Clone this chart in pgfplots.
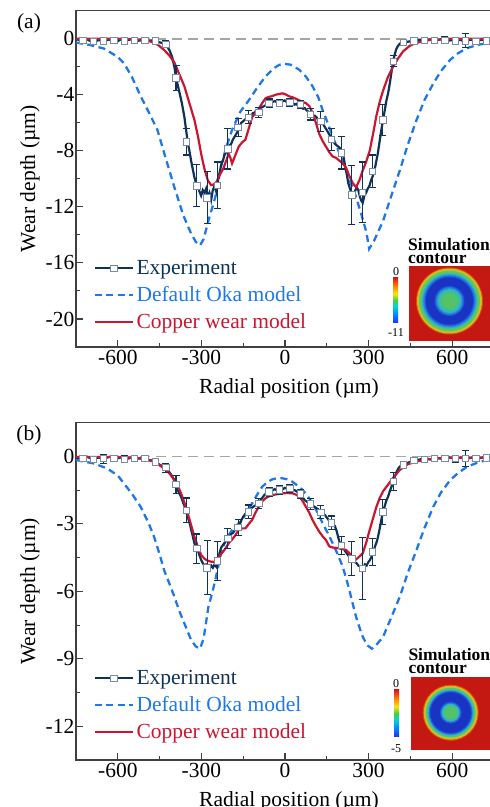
\documentclass[border=0pt]{standalone}
\usepackage{fontspec}
\setmainfont{Liberation Serif}
\usepackage{pgfplots}
\usepackage{pgfplotstable}
\pgfplotsset{compat=1.18}

\definecolor{expnavy}{HTML}{0F3358}
\definecolor{okablue}{HTML}{1F78E8}
\definecolor{cured}{HTML}{CC1630}
\definecolor{mkedge}{HTML}{7A8CA3}
\definecolor{zerogray}{HTML}{A6A6A6}
\definecolor{framegray}{HTML}{404040}
% jet colours for the contour insets
\definecolor{jred}{rgb}{0.77,0.1,0.07}
\definecolor{jorange}{rgb}{0.95,0.5,0.05}
\definecolor{jyellow}{rgb}{0.9,0.85,0.15}
\definecolor{jgreen}{rgb}{0.42,0.78,0.3}
\definecolor{jcyan}{rgb}{0.15,0.72,0.8}
\definecolor{jlblue}{rgb}{0.15,0.45,0.88}
\definecolor{jblue}{rgb}{0.1,0.2,0.76}
\definecolor{cgreen}{rgb}{0.33,0.76,0.4}
\definecolor{bblue}{rgb}{0.1,0.2,0.95}
\definecolor{bsky}{rgb}{0,0.55,1}
\definecolor{bcyan}{rgb}{0,0.85,0.85}
\definecolor{bgreen}{rgb}{0.3,0.8,0.2}
\definecolor{byellow}{rgb}{0.95,0.9,0.1}
\definecolor{borange}{rgb}{1,0.55,0}
\definecolor{bred}{rgb}{0.85,0.1,0.1}

\newcommand\fsz{\fontsize{21.5bp}{25bp}\selectfont}

% ---------- panel (a) ----------
\pgfplotstableread{
x y
-750 -0.05
-730 -0.1
-710 -0.05
-690 -0.25
-670 -0.1
-650 -0.15
-630 -0.05
-610 -0.3
-590 -0.05
-570 -0.1
-550 -0.05
-530 -0.15
-510 -0.1
-490 -0.15
-470 -0.1
-450 -0.25
-435 -0.35
-425 -0.5
-415 -0.8
-405 -1.3
-397 -2.0
-391 -2.8
-385 -3.3
-378 -3.9
-370 -4.6
-361 -5.6
-355 -6.5
-349 -7.4
-343 -8.0
-337 -8.7
-331 -9.3
-325 -9.9
-319 -10.3
-313 -10.5
-307 -10.9
-301 -11.2
-295 -10.8
-289 -11.0
-283 -10.7
-277 -11.3
-271 -11.0
-265 -11.5
-259 -10.8
-253 -10.5
-247 -10.9
-241 -10.2
-235 -9.6
-229 -9.0
-223 -8.7
-217 -8.3
-211 -8.1
-205 -7.9
-199 -7.6
-193 -7.5
-187 -7.2
-181 -7.0
-175 -6.8
-169 -6.6
-163 -6.3
-157 -6.0
-151 -5.9
-145 -5.8
-139 -5.7
-133 -5.6
-127 -5.5
-121 -5.5
-115 -5.3
-109 -5.3
-103 -5.1
-97 -5.2
-91 -5.0
-85 -4.9
-79 -4.85
-73 -4.8
-67 -4.7
-61 -4.6
-55 -4.6
-49 -4.55
-43 -4.5
-37 -4.45
-31 -4.5
-25 -4.45
-19 -4.5
-13 -4.4
-7 -4.45
-1 -4.4
5 -4.5
11 -4.45
17 -4.5
23 -4.55
29 -4.6
35 -4.7
41 -4.65
47 -4.8
53 -4.75
59 -4.9
65 -5.0
71 -4.95
77 -5.1
83 -5.2
89 -5.3
95 -5.4
101 -5.5
107 -5.5
113 -5.6
119 -5.8
125 -5.8
131 -5.9
137 -6.1
143 -6.3
149 -6.5
155 -6.7
161 -6.9
167 -7.1
173 -7.3
179 -7.5
185 -7.6
191 -7.7
197 -7.8
203 -8.0
209 -8.3
215 -9.0
221 -9.6
227 -10.3
233 -10.7
239 -11.0
245 -11.2
251 -10.9
257 -10.6
263 -10.8
269 -11.3
275 -11.6
279 -11.7
285 -11.2
291 -11.0
297 -10.7
303 -10.5
309 -10.1
315 -9.8
321 -9.4
327 -8.8
333 -8.2
339 -7.4
345 -6.6
352 -5.8
358 -5.1
364 -4.4
370 -3.9
376 -3.2
382 -2.4
388 -1.6
394 -1.1
400 -0.7
406 -0.5
412 -0.35
420 -0.3
430 -0.25
445 -0.2
460 -0.15
480 -0.1
500 -0.15
520 -0.05
540 -0.1
560 -0.05
580 -0.15
600 -0.1
620 -0.05
640 -0.15
660 -0.1
680 -0.05
700 -0.1
720 -0.05
750 -0.1
}\expAline

\pgfplotstableread{
x y e
-724.9 -0.10 0.15
-687.8 -0.20 0.15
-650.7 -0.15 0.25
-613.6 -0.10 0.12
-576.5 -0.15 0.18
-539.4 -0.10 0.15
-502.3 -0.10 0.15
-465.2 -0.15 0.15
-428.1 -0.40 0.25
-391.0 -2.80 0.90
-353.9 -7.35 0.95
-316.8 -10.50 1.50
-279.7 -11.35 1.85
-242.6 -10.45 1.65
-205.5 -7.85 1.45
-168.4 -6.35 0.65
-131.3 -5.60 0.45
-94.2 -5.25 0.35
-57.1 -4.60 0.30
-20.0 -4.60 0.25
17.1 -4.55 0.25
54.2 -4.70 0.30
91.3 -5.40 0.40
128.4 -5.90 0.70
165.5 -7.20 0.80
202.6 -8.15 1.15
239.7 -11.15 2.10
276.8 -10.95 2.15
313.9 -9.45 1.15
351.0 -5.80 1.10
388.1 -1.60 0.40
425.2 -0.25 0.20
462.3 -0.15 0.15
499.4 -0.10 0.20
536.5 -0.10 0.15
573.6 -0.10 0.25
610.7 -0.15 0.20
647.8 -0.15 0.50
684.9 -0.20 0.20
722.0 -0.15 0.15
}\expAmarks

\pgfplotstableread{
x y
-750 -0.27
-700 -0.45
-650 -0.7
-600 -1.3
-578 -1.74
-550 -2.7
-518 -4.1
-490 -5.2
-458 -6.5
-430 -8.4
-397 -10.6
-365 -12.6
-337 -13.9
-320 -14.5
-305 -14.75
-292 -14.3
-275 -13.0
-250 -11.3
-227 -8.9
-210 -7.7
-190 -6.5
-160 -5.2
-130 -4.4
-100 -3.5
-70 -2.7
-40 -2.1
-20 -1.86
0 -1.8
20 -1.85
50 -2.2
75 -2.7
99 -3.4
120 -4.2
135 -5.1
153 -6.0
171 -7.0
190 -7.9
207 -8.7
230 -10.0
255 -11.3
275 -12.6
292 -13.8
302 -15.0
320 -14.4
352 -13.0
380 -11.3
412 -9.4
440 -7.6
472 -5.8
500 -4.4
532 -3.2
560 -2.3
593 -1.5
620 -1.05
653 -0.67
690 -0.45
725 -0.31
750 -0.25
}\okaA

\pgfplotstableread{
x y
-750 0.0
-600 0.0
-520 -0.05
-482 -0.2
-455 -0.45
-434 -0.8
-415 -1.2
-397 -1.7
-380 -2.5
-361 -3.4
-343 -4.6
-325 -5.8
-312 -7.0
-301 -8.2
-289 -9.3
-277 -10.1
-265 -10.45
-255 -10.4
-245 -10.2
-239 -9.9
-228 -9.5
-220 -9.2
-211 -8.7
-202 -8.2
-196 -8.5
-190 -8.9
-180 -8.4
-166 -7.7
-154 -7.4
-142 -7.2
-130 -6.4
-118 -5.6
-106 -5.3
-94 -5.0
-82 -4.6
-70 -4.25
-58 -4.15
-46 -4.1
-34 -4.0
-22 -3.95
-10 -3.9
0 -3.95
14 -4.1
30 -4.2
51 -4.4
63 -4.5
75 -4.6
87 -4.8
99 -5.3
111 -6.0
123 -6.8
135 -7.3
147 -7.7
159 -8.1
171 -8.4
183 -8.5
195 -8.7
207 -8.9
219 -9.2
231 -9.8
243 -10.3
255 -10.6
267 -10.1
279 -9.4
291 -8.8
304 -8.0
316 -6.8
328 -5.5
340 -4.5
352 -3.7
370 -2.7
388 -2.0
406 -1.4
424 -0.9
448 -0.5
472 -0.3
500 -0.15
532 -0.07
600 0.0
750 0.0
}\cuA

% ---------- panel (b) ----------
\pgfplotstableread{
x y
-750 -0.05
-730 -0.1
-710 -0.02
-690 -0.12
-670 -0.05
-650 -0.1
-630 -0.02
-610 -0.1
-590 -0.05
-570 -0.12
-550 -0.05
-530 -0.1
-510 -0.08
-490 -0.15
-470 -0.2
-458 -0.31
-445 -0.4
-433 -0.5
-421 -0.6
-409 -0.8
-397 -1.05
-385 -1.5
-373 -1.8
-364 -2.1
-355 -2.4
-349 -2.7
-342 -2.97
-336 -3.3
-330 -3.6
-325 -3.86
-319 -4.0
-313 -4.16
-307 -4.4
-301 -4.6
-295 -4.75
-289 -4.85
-283 -4.8
-277 -4.9
-271 -5.0
-265 -4.85
-259 -4.95
-253 -4.8
-247 -4.9
-241 -4.65
-235 -4.3
-229 -4.05
-223 -3.95
-217 -3.85
-211 -3.75
-205 -3.65
-199 -3.55
-193 -3.45
-187 -3.4
-181 -3.3
-175 -3.2
-169 -3.15
-163 -3.05
-157 -2.85
-151 -2.7
-145 -2.6
-139 -2.5
-133 -2.45
-127 -2.4
-121 -2.3
-115 -2.25
-109 -2.2
-103 -2.15
-97 -2.1
-91 -2.0
-85 -1.9
-79 -1.8
-73 -1.7
-67 -1.65
-61 -1.6
-55 -1.55
-49 -1.5
-43 -1.5
-37 -1.45
-31 -1.5
-25 -1.48
-19 -1.45
-13 -1.4
-7 -1.45
-1 -1.4
5 -1.42
11 -1.38
17 -1.42
23 -1.45
29 -1.5
35 -1.5
41 -1.55
47 -1.6
53 -1.65
59 -1.75
65 -1.85
71 -1.95
77 -2.0
83 -2.05
89 -2.1
95 -2.15
101 -2.2
107 -2.25
113 -2.3
119 -2.35
125 -2.45
131 -2.5
137 -2.55
143 -2.6
149 -2.7
155 -2.8
161 -2.9
167 -2.95
173 -3.0
179 -3.1
185 -3.3
191 -3.6
197 -3.85
203 -3.95
209 -4.05
215 -4.2
221 -4.3
227 -4.4
233 -4.5
239 -4.6
245 -4.65
251 -4.7
257 -4.75
263 -4.85
269 -4.9
275 -5.0
281 -4.95
287 -4.8
293 -4.85
299 -4.7
305 -4.6
311 -4.45
317 -4.25
323 -4.0
329 -3.8
334 -3.57
340 -3.2
346 -2.8
352 -2.46
358 -2.2
364 -1.95
370 -1.79
376 -1.55
382 -1.35
388 -1.12
394 -0.9
400 -0.7
406 -0.55
412 -0.45
424 -0.38
436 -0.3
448 -0.25
460 -0.2
472 -0.16
490 -0.12
510 -0.1
530 -0.15
550 -0.08
570 -0.12
590 -0.05
610 -0.1
630 -0.05
650 -0.12
670 -0.05
690 -0.1
710 -0.05
750 -0.08
}\expBline

\pgfplotstableread{
x y e
-724.9 -0.08 0.12
-687.8 -0.12 0.12
-650.7 -0.10 0.20
-613.6 -0.08 0.12
-576.5 -0.12 0.15
-539.4 -0.08 0.12
-502.3 -0.10 0.12
-465.2 -0.25 0.15
-428.1 -0.50 0.20
-391.0 -1.25 0.40
-353.9 -2.40 0.55
-316.8 -4.10 0.65
-279.7 -4.95 1.20
-242.6 -4.65 0.85
-205.5 -3.65 0.45
-168.4 -3.15 0.35
-131.3 -2.46 0.30
-94.2 -2.09 0.22
-57.1 -1.57 0.20
-20.0 -1.49 0.18
17.1 -1.42 0.18
54.2 -1.66 0.20
91.3 -2.12 0.25
128.4 -2.48 0.30
165.5 -2.95 0.30
202.6 -3.95 0.40
239.7 -4.55 0.75
276.8 -4.98 1.37
313.9 -4.25 0.60
351.0 -2.46 0.55
388.1 -1.12 0.40
425.2 -0.38 0.15
462.3 -0.18 0.12
499.4 -0.12 0.12
536.5 -0.10 0.12
573.6 -0.08 0.12
610.7 -0.10 0.15
647.8 -0.08 0.35
684.9 -0.10 0.12
722.0 -0.06 0.12
}\expBmarks

\pgfplotstableread{
x y
-750 -0.16
-687 -0.31
-639 -0.53
-600 -0.85
-578 -1.2
-550 -1.65
-518 -2.24
-490 -2.95
-470 -3.57
-450 -4.35
-434 -5.05
-415 -5.65
-397 -6.24
-380 -6.85
-361 -7.43
-337 -8.16
-320 -8.45
-305 -8.55
-292 -8.1
-275 -6.7
-262 -6.1
-250 -5.5
-238 -4.8
-227 -4.16
-210 -3.65
-190 -3.27
-172 -3.05
-154 -2.83
-136 -2.45
-118 -2.09
-100 -1.7
-82 -1.35
-64 -1.15
-46 -1.02
-28 -0.97
-10 -0.97
8 -1.02
26 -1.12
45 -1.3
63 -1.49
81 -1.75
99 -2.09
117 -2.5
135 -2.97
153 -3.4
171 -3.86
189 -4.35
207 -4.9
219 -5.4
231 -5.94
243 -6.55
255 -7.13
267 -7.6
279 -8.02
295 -8.4
312 -8.55
330 -8.35
352 -8.02
380 -7.2
412 -6.24
440 -5.2
472 -4.16
500 -3.2
532 -2.24
560 -1.6
593 -1.05
620 -0.75
653 -0.46
690 -0.28
725 -0.16
750 -0.12
}\okaB

\pgfplotstableread{
x y
-750 -0.02
-600 -0.02
-520 -0.08
-470 -0.23
-434 -0.53
-415 -0.75
-397 -1.05
-385 -1.3
-373 -1.64
-361 -2.05
-349 -2.53
-337 -3.05
-325 -3.57
-313 -4.0
-301 -4.38
-289 -4.55
-277 -4.64
-265 -4.68
-252 -4.68
-240 -4.5
-227 -4.31
-214 -4.1
-202 -3.86
-190 -3.7
-178 -3.5
-166 -3.27
-154 -3.2
-142 -3.2
-130 -3.0
-118 -2.83
-106 -2.5
-94 -2.24
-82 -2.0
-70 -1.86
-58 -1.78
-46 -1.72
-28 -1.68
-10 -1.64
8 -1.63
26 -1.64
40 -1.7
51 -1.79
63 -1.98
75 -2.24
87 -2.5
99 -2.83
111 -3.1
123 -3.35
135 -3.55
147 -3.72
159 -4.0
171 -4.05
183 -4.07
195 -4.09
207 -4.12
219 -4.16
231 -4.3
243 -4.5
255 -4.58
267 -4.45
279 -4.31
291 -3.85
304 -3.27
316 -2.75
328 -2.24
340 -1.85
352 -1.55
364 -1.35
388 -0.95
412 -0.6
440 -0.35
472 -0.23
500 -0.15
544 -0.09
600 -0.06
750 -0.05
}\cuB

\pgfplotsset{
  panel/.style={
    scale only axis, width=418bp,
    xmin=-750, xmax=750,
    xtick={-600,-300,0,300,600},
    minor xtick={-450,-150,150,450},
    minor y tick num=1,
    tick pos=left, tick align=inside,
    major tick length=7bp, minor tick length=4bp,
    axis line style={framegray, line width=1.3bp},
    every tick/.style={framegray, line width=1.1bp},
    /pgf/number format/assume math mode=true,
    tick label style={font=\fsz},
    xticklabel style={inner sep=3.5bp},
    yticklabel style={inner sep=1.5bp},
    label style={font=\fsz},
    xlabel={Radial position (µm)},
    ylabel={Wear depth (µm)},
    xlabel style={at={(axis description cs:0.5096,-0.092)}, anchor=north, inner sep=0pt},
    ylabel style={at={(axis description cs:-0.0861,0.5)}, anchor=south, inner sep=0pt},
    legend cell align=left,
    legend style={draw=none, fill=none, inner sep=0pt, font=\fsz,
      nodes={inner sep=1.5bp}, column sep=1bp, row sep=7.5bp},
    legend image code/.code={\draw[##1] (0bp,0bp) -- (38bp,0bp);},
  },
  explegend/.style={legend image code/.code={
    \draw[expnavy, line width=2.2bp] (0bp,0bp) -- (38bp,0bp);
    \draw[mkedge, fill=white, line width=0.8bp] (15.8bp,-3.2bp) rectangle (22.2bp,3.2bp);}},
  zeroline/.style={zerogray, dash pattern=on 10bp off 6bp, line width=1.6bp, forget plot},
  okastyle/.style={okablue, dash pattern=on 7bp off 4.5bp, line width=2.3bp},
  custyle/.style={cured, line width=2.2bp},
  expline/.style={expnavy, line width=2.2bp, forget plot},
  expmarks/.style={only marks, forget plot, mark=square*, mark size=3.2bp,
    mark options={fill=white, draw=mkedge, line width=0.8bp, solid},
    error bars/.cd, y dir=both, y explicit,
    error bar style={expnavy, line width=1.1bp},
    error mark options={expnavy, rotate=90, mark size=3.5bp, line width=1.1bp}},
}

% jet colour bar built from stacked linear shadings
\newcommand\jetbar[4]{% x1, y1, x2, y2 (numbers, in bp)
  \pgfmathsetmacro\ja{#2+0.2*(#4-#2)}
  \pgfmathsetmacro\jb{#2+0.38*(#4-#2)}
  \pgfmathsetmacro\jc{#2+0.5*(#4-#2)}
  \pgfmathsetmacro\jd{#2+0.65*(#4-#2)}
  \pgfmathsetmacro\je{#2+0.8*(#4-#2)}
  \shade[bottom color=bblue, top color=bsky] (#1bp,#2bp) rectangle (#3bp,\ja bp);
  \shade[bottom color=bsky, top color=bcyan] (#1bp,\ja bp) rectangle (#3bp,\jb bp);
  \shade[bottom color=bcyan, top color=bgreen] (#1bp,\jb bp) rectangle (#3bp,\jc bp);
  \shade[bottom color=bgreen, top color=byellow] (#1bp,\jc bp) rectangle (#3bp,\jd bp);
  \shade[bottom color=byellow, top color=borange] (#1bp,\jd bp) rectangle (#3bp,\je bp);
  \shade[bottom color=borange, top color=bred] (#1bp,\je bp) rectangle (#3bp,#4bp);
}

\begin{document}
\begin{tikzpicture}
\path[use as bounding box] (0bp,0bp) rectangle (490bp,807bp);

\begin{axis}[panel, at={(76bp,460bp)}, anchor=south west, height=336.3bp,
  ymin=-22, ymax=2, ytick={-20,-16,-12,-8,-4,0},
  legend style={at={(rel axis cs:0.0419,0.2625)}, anchor=north west}]
\addplot[zeroline] coordinates {(-750,0) (750,0)};
\addlegendimage{explegend}
\addlegendentry{\textcolor{expnavy}{Experiment}}
\addplot[okastyle] table[x=x, y=y] {\okaA};
\addlegendentry{\textcolor{okablue}{Default Oka model}}
\addplot[expline] table[x=x, y=y] {\expAline};
\addplot[custyle] table[x=x, y=y] {\cuA};
\addlegendentry{\textcolor{cured}{Copper wear model}}
\addplot[expmarks] table[x=x, y=y, y error=e] {\expAmarks};
\end{axis}

\begin{axis}[panel, at={(76bp,47bp)}, anchor=south west, height=337.3bp,
  ymin=-13.5, ymax=1.5, ytick={-12,-9,-6,-3,0},
  legend style={at={(rel axis cs:0.0419,0.2707)}, anchor=north west}]
\addplot[zeroline] coordinates {(-750,0) (750,0)};
\addlegendimage{explegend}
\addlegendentry{\textcolor{expnavy}{Experiment}}
\addplot[okastyle] table[x=x, y=y] {\okaB};
\addlegendentry{\textcolor{okablue}{Default Oka model}}
\addplot[expline] table[x=x, y=y] {\expBline};
\addplot[custyle] table[x=x, y=y] {\cuB};
\addlegendentry{\textcolor{cured}{Copper wear model}}
\addplot[expmarks] table[x=x, y=y, y error=e] {\expBmarks};
\end{axis}

% panel letters
\node[font=\fsz, inner sep=0pt] at (29bp,784bp) {(a)};
\node[font=\fsz, inner sep=0pt] at (29bp,372bp) {(b)};

% inset (a): simulation contour
\node[font=\fontsize{17.5bp}{20bp}\selectfont\bfseries, anchor=base west, inner sep=0pt] at (408bp,556.5bp) {Simulation};
\node[font=\fontsize{17.5bp}{20bp}\selectfont\bfseries, anchor=base west, inner sep=0pt] at (408bp,543bp) {contour};
\fill[jred] (409bp,466bp) rectangle (490bp,541bp);
\foreach \r/\c in {33.5/jred!50!jorange, 32.5/jorange!50!jyellow, 31.5/jyellow!50!jgreen,
  30.5/jgreen, 28.5/jgreen!50!jcyan, 27.5/jcyan, 26.5/jcyan!40!jlblue, 25.5/jlblue,
  24.5/jlblue!40!jblue, 23.5/jblue, 15/jblue!50!jlblue, 14/jlblue, 13/jlblue!50!jcyan,
  12/jcyan, 10.5/jcyan!50!cgreen, 9/cgreen!75!jcyan, 7.5/cgreen}
  {\fill[\c] (449.5bp,506bp) circle (\r bp);}
\jetbar{393}{484}{398}{529}
\node[font=\fontsize{12bp}{14bp}\selectfont, inner sep=0pt] at (396bp,535bp) {0};
\node[font=\fontsize{12bp}{14bp}\selectfont, inner sep=0pt] at (396bp,474.5bp) {-11};

% inset (b): simulation contour
\node[font=\fontsize{17.5bp}{20bp}\selectfont\bfseries, anchor=base west, inner sep=0pt] at (408.3bp,146.3bp) {Simulation};
\node[font=\fontsize{17.5bp}{20bp}\selectfont\bfseries, anchor=base west, inner sep=0pt] at (408.3bp,133.2bp) {contour};
\fill[jred] (411bp,57bp) rectangle (490bp,130bp);
\foreach \r/\c in {28/jred!50!jorange, 27/jorange!50!jyellow, 26/jyellow!50!jgreen,
  25/jgreen, 24/jgreen!50!jcyan, 23/jcyan, 22/jlblue, 21/jlblue!40!jblue, 20/jblue,
  11/jblue!50!jlblue, 10/jlblue, 9/jcyan, 8/jcyan!50!cgreen, 6.5/cgreen}
  {\fill[\c] (450.7bp,94.3bp) circle (\r bp);}
\jetbar{394}{70}{399}{117}
\node[font=\fontsize{12bp}{14bp}\selectfont, inner sep=0pt] at (396bp,123.7bp) {0};
\node[font=\fontsize{12bp}{14bp}\selectfont, inner sep=0pt] at (396bp,58.7bp) {-5};
\end{tikzpicture}
\end{document}
